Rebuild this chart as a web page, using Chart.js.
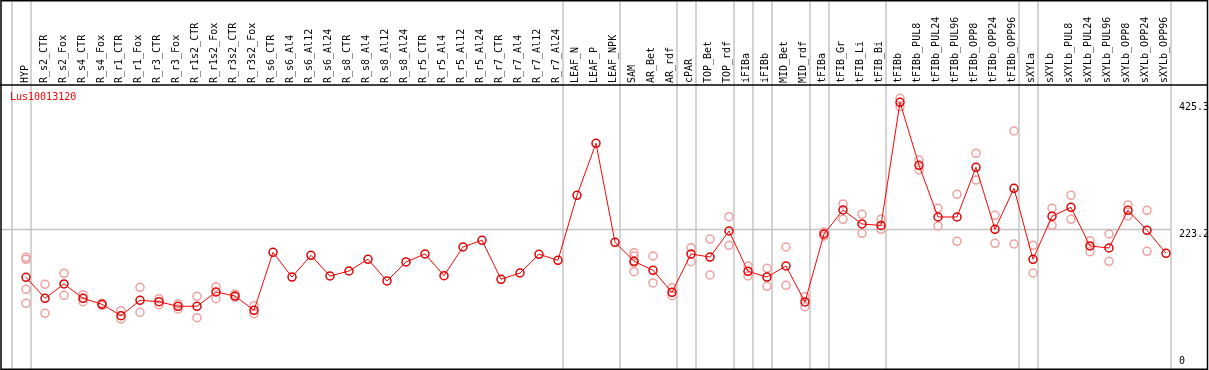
<!DOCTYPE html>
<html>
<head>
<meta charset="utf-8">
<script src="https://cdn.jsdelivr.net/npm/chart.js@4.4.1/dist/chart.umd.min.js"></script>
<style>
html, body { margin: 0; padding: 0; background: #fff; }
canvas { display: block; }
</style>
</head>
<body>
<canvas id="chart" width="1209" height="370"></canvas>
<script>
const categories = [
    'HYP', 'R_s2_CTR', 'R_s2_Fox', 'R_s4_CTR', 'R_s4_Fox', 'R_r1_CTR', 'R_r1_Fox', 'R_r3_CTR', 'R_r3_Fox',
    'R_r1s2_CTR', 'R_r1s2_Fox', 'R_r3s2_CTR', 'R_r3s2_Fox', 'R_s6_CTR', 'R_s6_Al4', 'R_s6_Al12', 'R_s6_Al24',
    'R_s8_CTR', 'R_s8_Al4', 'R_s8_Al12', 'R_s8_Al24', 'R_r5_CTR', 'R_r5_Al4', 'R_r5_Al12', 'R_r5_Al24',
    'R_r7_CTR', 'R_r7_Al4', 'R_r7_Al12', 'R_r7_Al24', 'LEAF_N', 'LEAF_P', 'LEAF_NPK', 'SAM', 'AR_Bet', 'AR_rdf',
    'cPAR', 'TOP_Bet', 'TOP_rdf', 'iFIBa', 'iFIBb', 'MID_Bet', 'MID_rdf', 'tFIBa', 'tFIB_Gr', 'tFIB_Li', 'tFIB_Bi',
    'tFIBb', 'tFIBb_PUL8', 'tFIBb_PUL24', 'tFIBb_PUL96', 'tFIBb_OPP8', 'tFIBb_OPP24', 'tFIBb_OPP96',
    'sXYLa', 'sXYLb', 'sXYLb_PUL8', 'sXYLb_PUL24', 'sXYLb_PUL96', 'sXYLb_OPP8', 'sXYLb_OPP24', 'sXYLb_OPP96'
]

// mean expression per sample
const means = [
    146.3, 112.8, 135.6, 112.8, 103.2, 85.0, 109.6, 107.3, 100.0, 100.0, 122.8, 116.4, 93.6,
    186.1, 146.7, 181.3, 148.3, 156.3, 175.0, 140.4, 170.7, 183.4, 148.8, 194.6, 205.3,
    143.1, 153.1, 182.9, 173.4, 277.0, 360.0, 202.1, 171.8, 157.4, 122.3, 183.4, 178.6,
    220.1, 155.8, 146.7, 164.3, 106.9, 215.3, 253.6, 231.3, 228.9, 425.3, 324.9, 242.4,
    242.4, 321.7, 222.8, 288.2, 175.0, 243.5, 257.9, 196.2, 193.0, 253.1, 221.2, 184.5
]

// replicates
const rep1 = [
    178.2, 135.1, 152.6, 118.5, 105.0, 93.0, 130.3, 112.1, 103.7, 115.9, 131.3, 119.6, 101.0,
    null, null, null, null, null, null, null, null, null, null, null, null,
    null, null, null, null, null, null, null, 185.5, 180.2, 129.7, 193.5, 207.3,
    242.9, 164.3, 160.6, 194.6, 115.3, 218.5, 263.2, 246.7, 238.8, 431.7, 333.3, 256.3,
    278.6, 344.0, 245.1, 379.6, 197.3, 256.3, 277.0, 204.6, 215.3, 261.6, 253.1, null
]
const rep2 = [
    104.8, 88.8, 117.5, 107.3, 101.5, 79.7, 90.4, 102.6, 95.7, 81.8, 112.1, 114.4, 88.2,
    null, null, null, null, null, null, null, null, null, null, null, null,
    null, null, null, null, null, null, null, 155.2, 137.2, 116.9, 171.1, 149.9,
    197.3, 148.3, 131.9, 133.5, 99.4, 212.0, 238.8, 216.4, 222.8, 418.3, 317.4, 228.1,
    203.7, 301.4, 200.5, 199.4, 153.1, 229.2, 238.8, 187.1, 171.8, 244.0, 187.7, null
]
const rep3 = [
    175.0, null, null, null, null, null, null, null, null, null, null, null, null,
    null, null, null, null, null, null, null, null, null, null, null, null,
    null, null, null, null, null, null, null, 180.2, null, null, null, null,
    null, null, null, null, null, null, null, null, null, null, null, null,
    null, null, null, null, null, null, null, null, null, null, null, null
]
const rep4 = [
    127.1, null, null, null, null, null, null, null, null, null, null, null, null,
    null, null, null, null, null, null, null, null, null, null, null, null,
    null, null, null, null, null, null, null, 169.1, null, null, null, null,
    null, null, null, null, null, null, null, null, null, null, null, null,
    null, null, null, null, null, null, null, null, null, null, null, null
]

const yTicks = [0, 223.2, 425.3]
// last sample index (1-based) of each group, 0 = left edge
const groupEnds = [0, 1, 29, 32, 35, 36, 38, 39, 40, 42, 43, 46, 53, 54, 61]
const geneName = 'Lus10013120'

const toPoints = arr => arr.map((v, i) => ({ x: i + 1, y: v }))
const mono = '10px "DejaVu Sans Mono", monospace'

const frame = {
    id: 'frame',
    beforeDatasetsDraw(chart) {
        const { ctx, chartArea: a, scales: { x, y } } = chart
        ctx.save()

        // group separators
        ctx.strokeStyle = '#c4c4c4'
        ctx.lineWidth = 1.5
        groupEnds.forEach(g => {
            const px = Math.round(x.getPixelForValue(g)) + 5
            ctx.beginPath()
            ctx.moveTo(px, 0)
            ctx.lineTo(px, a.bottom)
            ctx.stroke()
        })
        const rightSep = Math.round(x.getPixelForValue(61)) + 5

        // grid line at middle tick
        const gy = Math.round(y.getPixelForValue(yTicks[1])) + 0.5
        ctx.beginPath()
        ctx.moveTo(a.left, gy)
        ctx.lineTo(rightSep, gy)
        ctx.stroke()

        // border
        ctx.strokeStyle = '#000'
        ctx.lineWidth = 1.5
        ctx.strokeRect(1, 0.75, a.right - 0.5, a.bottom - 0.5)
        ctx.beginPath()
        ctx.moveTo(0, a.top)
        ctx.lineTo(a.right, a.top)
        ctx.stroke()

        // sample labels in header
        ctx.fillStyle = '#000'
        ctx.font = mono
        ctx.textAlign = 'left'
        ctx.textBaseline = 'alphabetic'
        categories.forEach((c, i) => {
            const px = x.getPixelForValue(i + 1)
            ctx.save()
            ctx.translate(px + 1.5, a.top - 2)
            ctx.rotate(-Math.PI / 2)
            ctx.fillText(c, 0, 0)
            ctx.restore()
        })

        // y tick labels
        ctx.textBaseline = 'middle'
        yTicks.forEach(t => {
            const ty = Math.min(y.getPixelForValue(t) + 5, a.bottom - 8)
            ctx.fillText(String(t), rightSep + 8, ty)
        })

        // gene name
        ctx.fillStyle = '#ff0000'
        ctx.fillText(geneName, 10, 97)
        ctx.restore()
    }
}

const repStyle = {
    showLine: false,
    pointRadius: 4,
    pointBorderWidth: 1.5,
    pointBorderColor: '#f0a0a0',
    pointBackgroundColor: 'rgba(0,0,0,0)',
    order: 2
}

new Chart(document.getElementById('chart'), {
    type: 'line',
    data: {
        datasets: [
            {
                label: geneName,
                data: toPoints(means),
                borderColor: '#ff0000',
                borderWidth: 1,
                pointRadius: 4,
                pointBorderWidth: 1.5,
                pointBorderColor: '#e00000',
                pointBackgroundColor: 'rgba(0,0,0,0)',
                tension: 0,
                order: 1
            },
            Object.assign({ data: toPoints(rep1) }, repStyle),
            Object.assign({ data: toPoints(rep2) }, repStyle),
            Object.assign({ data: toPoints(rep3) }, repStyle),
            Object.assign({ data: toPoints(rep4) }, repStyle)
        ]
    },
    options: {
        responsive: false,
        animation: false,
        devicePixelRatio: 1,
        layout: { autoPadding: false, padding: { top: 85, left: 1, right: 2, bottom: 1 } },
        scales: {
            x: { type: 'linear', min: -0.3158, max: 63.158, display: false },
            y: { min: 0, max: 452.95, display: false }
        },
        plugins: {
            legend: { display: false },
            tooltip: { enabled: false }
        }
    },
    plugins: [frame]
})
</script>
</body>
</html>
